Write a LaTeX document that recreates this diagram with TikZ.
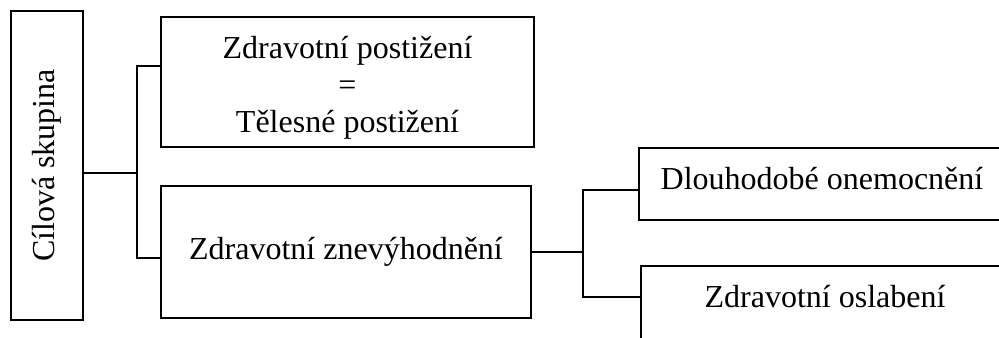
\documentclass[tikz,border=0pt]{standalone}
\usepackage{fontspec}
\setmainfont{Liberation Serif}
\begin{document}
\begin{tikzpicture}[x=0.75pt,y=-0.75pt,
  box/.style={draw=black,line width=1.5pt,rectangle,inner sep=0pt,align=center,
    font=\fontsize{24}{27.75}\selectfont},
  conn/.style={draw=black,line width=1.4pt},
  txt/.style={inner sep=0pt,align=center,font=\fontsize{24}{27.75}\selectfont}]
\useasboundingbox (0,0) rectangle (999,338);
\clip (0,0) rectangle (999,338);
\fill[white] (0,0) rectangle (999,338);
% nodes
\node[box,rotate=90,minimum width=231.75pt,minimum height=54pt] (L) at (47,165.5) {Cílová skupina};
\node[box,minimum width=279.75pt,minimum height=97.5pt] (B1) at (347.5,82) {};
\node[txt] (T1) at (347.5,87.5) {Zdravotní postižení\\=\\Tělesné postižení};
\node[box,minimum width=277.5pt,minimum height=99pt] (B2) at (346,252) {Zdravotní znevýhodnění};
\node[box,minimum width=274.5pt,minimum height=54pt] (B3) at (822,184) {};
\node[txt,anchor=base] (T3) at (822,190) {Dlouhodobé onemocnění};
\node[box,minimum width=276pt,minimum height=65pt] (B4) at (825,309.5) {};
\node[txt,anchor=base] (T4) at (825,307) {Zdravotní oslabení};
% connectors
\coordinate (j1) at (137,173);
\coordinate (t1) at (137,66);
\coordinate (t2) at (137,258);
\draw[conn] (L.south |- j1) -- (j1);
\draw[conn] (B1.west |- t1) -- (t1) -- (t2) -- (B2.west |- t2);
\coordinate (j2) at (583,252);
\coordinate (u1) at (583,190);
\coordinate (u2) at (583,297);
\draw[conn] (B2.east |- j2) -- (j2);
\draw[conn] (B3.west |- u1) -- (u1) -- (u2) -- (B4.west |- u2);
\end{tikzpicture}
\end{document}
